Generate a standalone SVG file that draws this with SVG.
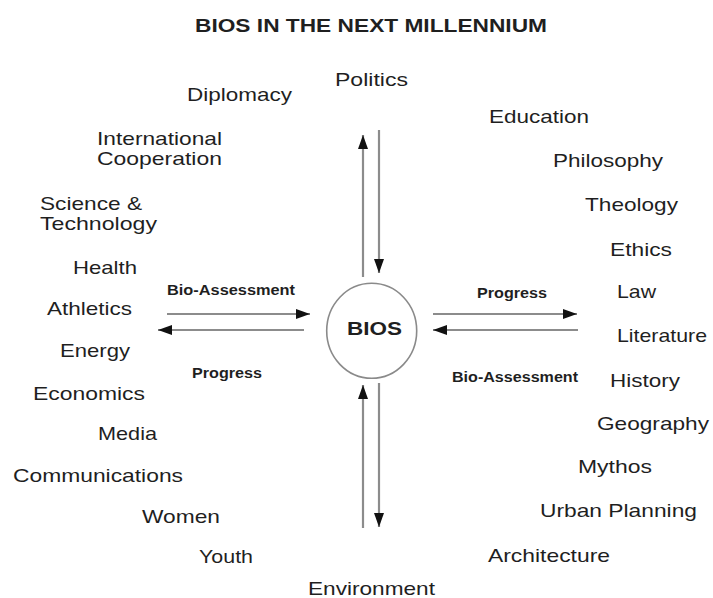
<svg xmlns="http://www.w3.org/2000/svg" width="713" height="598" viewBox="0 0 713 598">
<style>
.t{font-family:"Liberation Sans",Arial,sans-serif;font-size:19px;fill:#1f1f1f}
.title{font-family:"Liberation Sans",Arial,sans-serif;font-size:19px;font-weight:bold;fill:#1f1f1f}
.s{font-family:"Liberation Sans",Arial,sans-serif;font-size:14px;font-weight:bold;fill:#1f1f1f}
.c{fill:none;stroke:#8a8a8a;stroke-width:1.6}
.a{stroke:#8c8c8c;stroke-width:2.2;fill:none;marker-end:url(#ah)}
</style>
<defs>
<marker id="ah" markerUnits="userSpaceOnUse" viewBox="0 0 14 10" refX="14" refY="5" markerWidth="14" markerHeight="10" orient="auto">
<path d="M0,0 L14,5 L0,10 Z" fill="#111"/>
</marker>
</defs>
<rect width="713" height="598" fill="#fff"/>
<text class="title" x="195" y="32" textLength="352" lengthAdjust="spacingAndGlyphs">BIOS IN THE NEXT MILLENNIUM</text>

<g id="connectors">
<line class="a" x1="363" y1="277" x2="363" y2="135"/>
<line class="a" x1="379" y1="130" x2="379" y2="273"/>
<line class="a" x1="363" y1="528" x2="363" y2="385"/>
<line class="a" x1="379" y1="383" x2="379" y2="527"/>
<line class="a" x1="167" y1="314" x2="310" y2="314"/>
<line class="a" x1="304" y1="330" x2="158" y2="330"/>
<line class="a" x1="433" y1="314" x2="577" y2="314"/>
<line class="a" x1="578" y1="330" x2="433" y2="330"/>
<text class="s" x="167" y="295" textLength="128" lengthAdjust="spacingAndGlyphs">Bio-Assessment</text>
<text class="s" x="192" y="378" textLength="70" lengthAdjust="spacingAndGlyphs">Progress</text>
<text class="s" x="477" y="298" textLength="70" lengthAdjust="spacingAndGlyphs">Progress</text>
<text class="s" x="452" y="382" textLength="126" lengthAdjust="spacingAndGlyphs">Bio-Assessment</text>
</g>

<g id="bios">
<ellipse class="c" cx="371.7" cy="330.8" rx="45" ry="47.5"/>
<text class="title" x="347" y="335" font-size="20" textLength="55" lengthAdjust="spacingAndGlyphs">BIOS</text>
</g>

<g id="politics"><text class="t" x="335" y="86" textLength="73" lengthAdjust="spacingAndGlyphs">Politics</text></g>
<g id="diplomacy"><text class="t" x="187" y="101" textLength="105" lengthAdjust="spacingAndGlyphs">Diplomacy</text></g>
<g id="international-cooperation">
<text class="t" x="97" y="145" textLength="125" lengthAdjust="spacingAndGlyphs">International</text>
<text class="t" x="97" y="165" textLength="125" lengthAdjust="spacingAndGlyphs">Cooperation</text>
</g>
<g id="science-technology">
<text class="t" x="40" y="209.5" textLength="102" lengthAdjust="spacingAndGlyphs">Science &amp;</text>
<text class="t" x="40" y="229.5" textLength="117" lengthAdjust="spacingAndGlyphs">Technology</text>
</g>
<g id="health"><text class="t" x="73" y="274" textLength="64" lengthAdjust="spacingAndGlyphs">Health</text></g>
<g id="athletics"><text class="t" x="47" y="315" textLength="85" lengthAdjust="spacingAndGlyphs">Athletics</text></g>
<g id="energy"><text class="t" x="60" y="357" textLength="70" lengthAdjust="spacingAndGlyphs">Energy</text></g>
<g id="economics"><text class="t" x="33" y="400" textLength="112" lengthAdjust="spacingAndGlyphs">Economics</text></g>
<g id="media"><text class="t" x="98" y="440" textLength="59" lengthAdjust="spacingAndGlyphs">Media</text></g>
<g id="communications"><text class="t" x="13" y="482" textLength="170" lengthAdjust="spacingAndGlyphs">Communications</text></g>
<g id="women"><text class="t" x="142" y="523" textLength="78" lengthAdjust="spacingAndGlyphs">Women</text></g>
<g id="youth"><text class="t" x="199" y="563" textLength="54" lengthAdjust="spacingAndGlyphs">Youth</text></g>
<g id="environment"><text class="t" x="308" y="595" textLength="127" lengthAdjust="spacingAndGlyphs">Environment</text></g>

<g id="education"><text class="t" x="489" y="123" textLength="100" lengthAdjust="spacingAndGlyphs">Education</text></g>
<g id="philosophy"><text class="t" x="553" y="167" textLength="110" lengthAdjust="spacingAndGlyphs">Philosophy</text></g>
<g id="theology"><text class="t" x="585" y="211" textLength="93" lengthAdjust="spacingAndGlyphs">Theology</text></g>
<g id="ethics"><text class="t" x="610" y="256" textLength="62" lengthAdjust="spacingAndGlyphs">Ethics</text></g>
<g id="law"><text class="t" x="617" y="298" textLength="39" lengthAdjust="spacingAndGlyphs">Law</text></g>
<g id="literature"><text class="t" x="617" y="342" textLength="90" lengthAdjust="spacingAndGlyphs">Literature</text></g>
<g id="history"><text class="t" x="610" y="387" textLength="70" lengthAdjust="spacingAndGlyphs">History</text></g>
<g id="geography"><text class="t" x="597" y="430" textLength="112" lengthAdjust="spacingAndGlyphs">Geography</text></g>
<g id="mythos"><text class="t" x="578" y="473" textLength="74" lengthAdjust="spacingAndGlyphs">Mythos</text></g>
<g id="urban-planning"><text class="t" x="540" y="517" textLength="157" lengthAdjust="spacingAndGlyphs">Urban Planning</text></g>
<g id="architecture"><text class="t" x="488" y="562" textLength="122" lengthAdjust="spacingAndGlyphs">Architecture</text></g>
</svg>
